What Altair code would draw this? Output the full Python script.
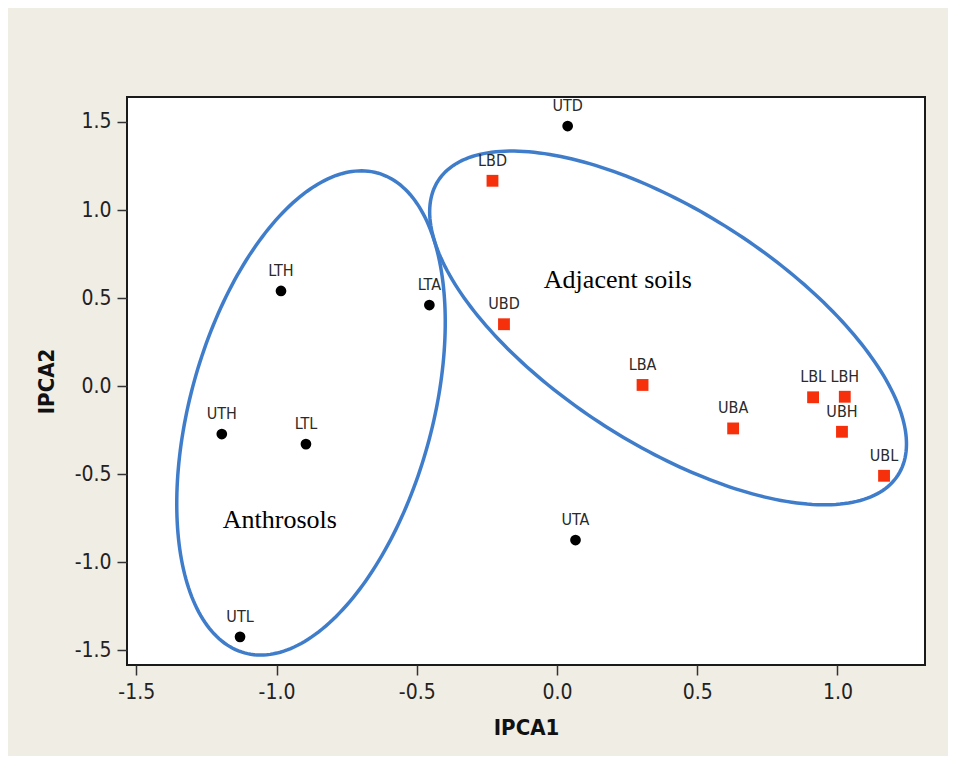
import numpy as np
import pandas as pd
import altair as alt

# ---- data ----
sample = ["UTD", "LBD", "LTH", "LTA", "UBD", "LBA", "LBL", "LBH",
          "UBA", "UBH", "UBL", "UTH", "LTL", "UTA", "UTL"]
ipca1 = [0.038, -0.230, -0.984, -0.455, -0.189, 0.305, 0.913, 1.026,
         0.628, 1.016, 1.166, -1.195, -0.895, 0.066, -1.130]
ipca2 = [1.477, 1.166, 0.540, 0.460, 0.351, 0.006, -0.064, -0.061,
         -0.241, -0.260, -0.510, -0.273, -0.330, -0.875, -1.425]
soil = ["T", "B", "T", "T", "B", "B", "B", "B",
        "B", "B", "B", "T", "T", "T", "T"]

x_ticks = [-1.5, -1.0, -0.5, 0.0, 0.5, 1.0]
y_ticks = [-1.5, -1.0, -0.5, 0.0, 0.5, 1.0, 1.5]
x_domain = [-1.533, 1.312]
y_domain = [-1.585, 1.642]

group_names = ["Anthrosols", "Adjacent soils"]
group_label_x = [-0.988, 0.217]
group_label_y = [-0.761, 0.602]

# ellipses: centre in data units, semi-axes in screen pixels, tilt in degrees
ell_cx = [-0.877, 0.396]
ell_cy = [-0.153, 0.330]
ell_a = [249, 273]
ell_b = [121, 116.6]
ell_phi = [74.5, -32.6]

W, H = 798, 568
px_x = W / (x_domain[1] - x_domain[0])
px_y = H / (y_domain[1] - y_domain[0])

pts = pd.DataFrame({"sample": sample, "x": ipca1, "y": ipca2, "soil": soil})

rows = []
t = np.linspace(0, 2 * np.pi, 241)
for k, name in enumerate(group_names):
    ph = np.radians(ell_phi[k])
    dx = ell_a[k] * np.cos(t) * np.cos(ph) - ell_b[k] * np.sin(t) * np.sin(ph)
    dy = ell_a[k] * np.cos(t) * np.sin(ph) + ell_b[k] * np.sin(t) * np.cos(ph)
    for i in range(len(t)):
        rows.append({"g": name, "i": i,
                     "x": ell_cx[k] + dx[i] / px_x,
                     "y": ell_cy[k] + dy[i] / px_y})
ell = pd.DataFrame(rows)

ann = pd.DataFrame({"name": group_names, "x": group_label_x, "y": group_label_y})

sans = "DejaVu Sans Condensed, Liberation Sans, sans-serif"
hyphen = "replace(datum.label, '\u2212', '-')"

xs = alt.Scale(domain=x_domain, nice=False, zero=False)
ys = alt.Scale(domain=y_domain, nice=False, zero=False)
xax = alt.Axis(values=x_ticks, format=".1f", labelExpr=hyphen, title="IPCA1", titlePadding=15)
yax = alt.Axis(values=y_ticks, format=".1f", labelExpr=hyphen, title="IPCA2", titlePadding=16)

ellipses = alt.Chart(ell).mark_line(color="#3f7dcb", strokeWidth=3.5).encode(
    x=alt.X("x:Q", scale=xs, axis=xax),
    y=alt.Y("y:Q", scale=ys, axis=yax),
    detail="g:N",
    order="i:Q",
)

points = alt.Chart(pts).mark_point(filled=True, opacity=1).encode(
    x=alt.X("x:Q", scale=xs),
    y=alt.Y("y:Q", scale=ys),
    shape=alt.Shape("soil:N", scale=alt.Scale(domain=["T", "B"], range=["circle", "square"]), legend=None),
    color=alt.Color("soil:N", scale=alt.Scale(domain=["T", "B"], range=["#000000", "#f7300c"]), legend=None),
    size=alt.Size("soil:N", scale=alt.Scale(domain=["T", "B"], range=[115, 140]), legend=None),
)

labels = alt.Chart(pts).mark_text(
    font=sans, fontSize=16, color="#2a2a2a", dy=-20, baseline="middle", align="center"
).encode(
    x=alt.X("x:Q", scale=xs),
    y=alt.Y("y:Q", scale=ys),
    text="sample:N",
)

annots = alt.Chart(ann).mark_text(
    font="Liberation Serif, Times New Roman, serif", fontSize=26, color="#000000",
    baseline="middle", align="center"
).encode(
    x=alt.X("x:Q", scale=xs),
    y=alt.Y("y:Q", scale=ys),
    text="name:N",
)

chart = alt.layer(ellipses, points, labels, annots).properties(
    width=W, height=H,
    autosize=alt.AutoSizeParams(type="none"),
    padding={"left": 119, "top": 89, "right": 23, "bottom": 91},
    background="#f0ede4",
).configure_view(
    stroke="#1a1a1a", strokeWidth=2, fill="#ffffff"
).configure_axis(
    domain=False, grid=False,
    tickColor="#333333", tickSize=10, tickWidth=1.5,
    labelFont=sans, labelFontSize=21, labelColor="#222222", labelPadding=6,
    titleFont=sans, titleFontSize=22, titleFontWeight="bold", titleColor="#111111",
)

chart.save("out.html", embed_options={"renderer": "svg", "actions": False})
